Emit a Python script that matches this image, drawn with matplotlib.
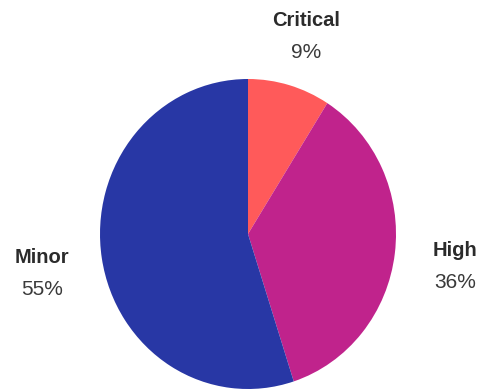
import numpy as np
import matplotlib
matplotlib.use("Agg")
import matplotlib.pyplot as plt

# severity breakdown
labels = ["Critical", "High", "Minor"]
shares = [9, 36, 55]
colors = ["#ff5a5a", "#c0238c", "#2837a5"]

plt.rcParams["font.family"] = ["Liberation Sans", "DejaVu Sans"]

fig = plt.figure(figsize=(4.79, 3.91), dpi=100)
ax = fig.add_axes([0, 0, 1, 1])

wedges, _ = ax.pie(shares, colors=colors, startangle=90, counterclock=False,
                   radius=1, wedgeprops=dict(linewidth=0))

# pie centre at (248, 234) px, x-radius 148 px, y-radius 155 px
ax.set_aspect("auto")
ax.set_xlim(-248 / 148, 231 / 148)
ax.set_ylim(-(391 - 234) / 155, 234 / 155)
ax.axis("off")

# labels sit beyond the wedge mid-angle
for w, name, val in zip(wedges, labels, shares):
    mid = np.deg2rad((w.theta1 + w.theta2) / 2)
    x, y = 1.41 * np.cos(mid), 1.37 * np.sin(mid)
    ax.annotate(name, (x, y), xytext=(0, 10), textcoords="offset pixels",
                ha="center", va="center", fontsize=14.5, fontweight="bold",
                color="#2b2b2b")
    ax.annotate(f"{val}%", (x, y), xytext=(0, -22), textcoords="offset pixels",
                ha="center", va="center", fontsize=15, color="#3a3a3a")

fig.savefig("out.png", dpi=100)
